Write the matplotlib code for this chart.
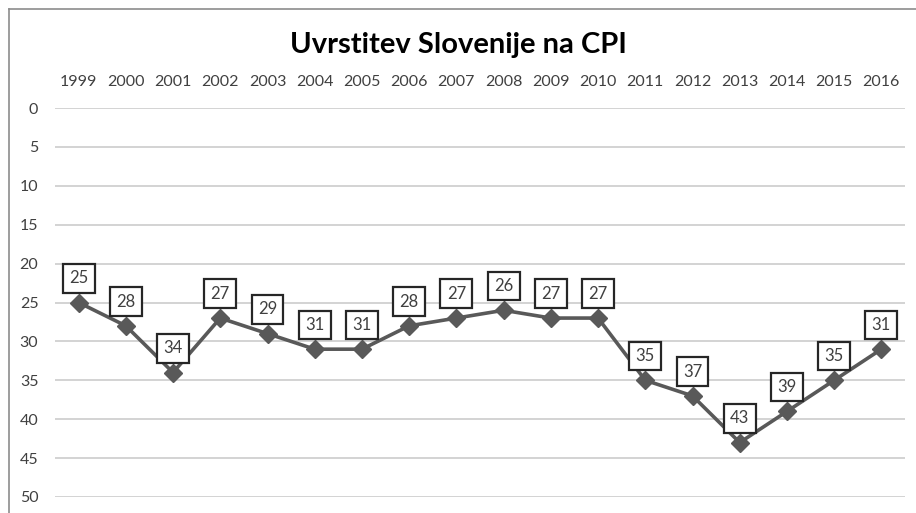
import matplotlib
matplotlib.use("Agg")
import matplotlib.pyplot as plt
from matplotlib.lines import Line2D

years = ["1999", "2000", "2001", "2002", "2003", "2004", "2005", "2006", "2007",
         "2008", "2009", "2010", "2011", "2012", "2013", "2014", "2015", "2016"]
rank = [25, 28, 34, 27, 29, 31, 31, 28, 27, 26, 27, 27, 35, 37, 43, 39, 35, 31]
yticks = [0, 5, 10, 15, 20, 25, 30, 35, 40, 45, 50]

plt.rcParams['font.family'] = ['Lato', 'DejaVu Sans']

W, H = 916, 513
fig = plt.figure(figsize=(W / 100, H / 100), dpi=100)
ax = fig.add_axes([55 / W, 1 - 497 / H, (905 - 55) / W, (497 - 108) / H])

x = list(range(len(years)))
ax.plot(x, rank, color="#595959", lw=2.6, marker="D", markersize=9,
        markerfacecolor="#595959", markeredgecolor="#595959", zorder=3)

for xi, v in zip(x, rank):
    ax.annotate(str(v), (xi, v), xytext=(0, 17.5), textcoords="offset points",
                ha="center", va="center", fontsize=12, color="#404040",
                bbox=dict(boxstyle="square,pad=0.38", fc="white", ec="#262626", lw=1.6),
                zorder=4)

ax.set_xlim(-0.5, len(years) - 0.5)
ax.set_ylim(50, 0)
ax.set_yticks(yticks)
ax.set_xticks(x)
ax.set_xticklabels(years)
ax.xaxis.tick_top()
ax.tick_params(axis="both", length=0, labelsize=11.5, labelcolor="#404040")
ax.tick_params(axis="x", pad=14)
ax.tick_params(axis="y", pad=12)
ax.grid(axis="y", color="#d0d0d0", lw=1.3)
ax.set_axisbelow(True)
for s in ax.spines.values():
    s.set_visible(False)

fig.text(0.5, 1 - 45 / H, "Uvrstitev Slovenije na CPI", ha="center", va="center",
         fontsize=21, fontweight="bold", color="black")

# outer frame (top and left edges visible)
fig.add_artist(Line2D([9 / W, 9 / W], [0, 1 - 9 / H], transform=fig.transFigure,
                      color="#8c8c8c", lw=1.2))
fig.add_artist(Line2D([9 / W, 1], [1 - 9 / H, 1 - 9 / H], transform=fig.transFigure,
                      color="#8c8c8c", lw=1.2))

fig.savefig("out.png", dpi=100)
